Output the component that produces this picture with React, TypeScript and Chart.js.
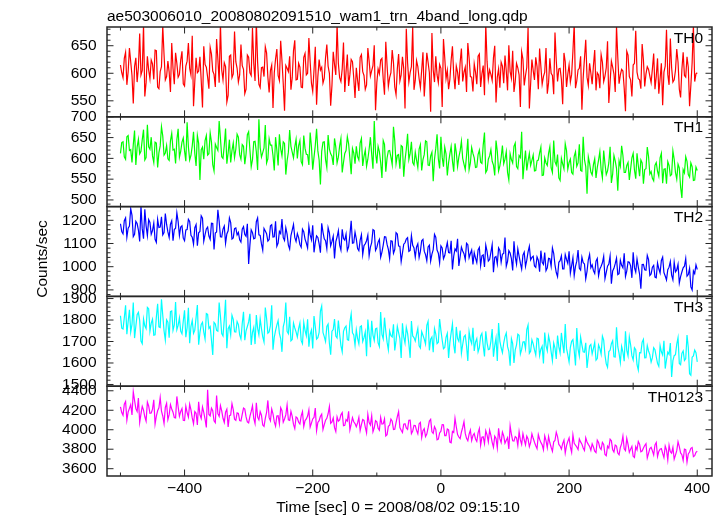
import React, { useEffect, useRef } from 'react';
import { Chart, registerables } from 'chart.js';

Chart.register(...registerables);

const TITLE = 'ae503006010_20080802091510_wam1_trn_4band_long.qdp';
const X_TITLE = 'Time [sec] 0 = 2008/08/02 09:15:10';
const Y_TITLE = 'Counts/sec';

// bins: set A at -500, -496, ... ; set B at -498, -494, ...
const T_START_A = -500;
const T_START_B = -498;
const T_STEP = 4;
const X_MIN = -521;
const X_MAX = 423;
const X_TICKS = [-400, -200, 0, 200, 400];
const X_MINOR_TICKS = [-500, -300, -100, 100, 300];

const PANEL_NAMES = ['TH0', 'TH1', 'TH2', 'TH3', 'TH0123'];
const PANEL_COLORS = ['#ff0000', '#00ff00', '#0000ff', '#00ffff', '#ff00ff'];
const Y_MINS = [521, 484, 872, 1492, 3525];
const Y_MAXS = [684, 700, 1259, 1910, 4447];
const Y_TICKS_TH0 = [550, 600, 650];
const Y_TICKS_TH1 = [500, 550, 600, 650, 700];
const Y_TICKS_TH2 = [900, 1000, 1100, 1200];
const Y_TICKS_TH3 = [1500, 1600, 1700, 1800, 1900];
const Y_TICKS_TH0123 = [3600, 3800, 4000, 4200, 4400];
const Y_TICKS = [Y_TICKS_TH0, Y_TICKS_TH1, Y_TICKS_TH2, Y_TICKS_TH3, Y_TICKS_TH0123];
const Y_MINOR_STEPS = [10, 10, 20, 20, 100];

const TH0_A = [
  615, 592, 638, 603, 621, 545, 628, 611, 597, 688, 583, 606, 624, 589, 641, 572, 612, 634, 594, 602, 655, 580, 618,
  598, 640, 577, 622, 609, 668, 585, 601, 630, 538, 616, 593, 647, 604, 575, 626, 690, 588, 612, 560, 633, 599, 621,
  584, 652, 607, 571, 629, 596, 618, 695, 580, 610, 594, 637, 565, 615, 601, 644, 587, 623, 532, 609, 631, 592, 660,
  589, 611, 574, 636, 600, 621, 567, 648, 594, 606, 582, 628, 613, 541, 639, 597, 618, 585, 656, 603, 577, 625, 592,
  610, 568, 634, 596, 579, 622, 605, 651, 583, 599, 627, 561, 614, 592, 642, 575, 608, 586, 630, 536, 619, 601, 684,
  587, 612, 574, 638, 595, 620, 530, 606, 631, 583, 609, 662, 590, 571, 624, 597, 613, 579, 645, 602, 566, 628, 593,
  617, 580, 635, 599, 560, 622, 606, 587, 650, 593, 574, 613, 632, 569, 603, 641, 585, 610, 539, 626, 596, 683, 581,
  605, 629, 571, 612, 594, 646, 583, 600, 562, 623, 608, 589, 637, 575, 615, 598, 690, 586, 609, 534, 627, 593, 618,
  580, 642, 601, 573, 620, 595, 658, 584, 611, 566, 629, 597, 604, 531, 633, 588, 615, 677, 590, 572, 624, 599, 607,
  583, 636, 594, 563, 618, 602, 679, 579, 610, 588, 644, 571, 607, 596, 630, 540, 619, 585, 601
];
const TH0_B = [
  601, 627, 579, 646, 596, 612, 584, 672, 605, 558, 631, 590, 617, 642, 575, 603, 686, 588, 622, 566, 609, 637, 593,
  624, 581, 613, 655, 597, 540, 628, 604, 587, 649, 611, 572, 635, 598, 662, 583, 606, 619, 548, 631, 592, 676, 609,
  597, 614, 563, 633, 601, 682, 586, 620, 574, 611, 648, 593, 605, 537, 626, 596, 659, 581, 614, 603, 570, 641, 588,
  618, 575, 629, 597, 664, 582, 606, 543, 625, 611, 591, 652, 600, 578, 616, 689, 592, 608, 566, 634, 598, 621, 555,
  587, 629, 603, 571, 646, 595, 614, 533, 608, 624, 589, 657, 576, 601, 619, 561, 635, 597, 609, 681, 584, 612, 570,
  623, 590, 606, 558, 637, 601, 673, 584, 597, 616, 539, 628, 605, 589, 649, 571, 602, 620, 585, 611, 655, 594, 567,
  602, 631, 575, 614, 689, 589, 598, 628, 547, 608, 620, 582, 604, 651, 591, 566, 618, 597, 639, 578, 611, 536, 625,
  588, 612, 645, 580, 602, 563, 627, 596, 674, 585, 609, 544, 621, 598, 584, 640, 573, 606, 631, 592, 661, 578, 600,
  614, 569, 597, 634, 585, 610, 546, 622, 599, 686, 581, 607, 573, 640, 594, 558, 618, 602, 588, 653, 576, 612, 595,
  608, 571, 627, 590, 542, 613, 598, 663, 584, 605, 620, 556, 638, 593, 611, 578, 687, 599
];

const TH1_A = [
  612, 640, 598, 655, 621, 633, 584, 646, 617, 669, 602, 628, 651, 590, 637, 614, 676, 608, 631, 595, 660, 622, 645,
  603, 639, 618, 687, 596, 630, 612, 655, 548, 627, 643, 608, 661, 585, 634, 619, 648, 600, 672, 613, 590, 637, 622,
  651, 598, 629, 611, 664, 580, 640, 616, 694, 603, 625, 589, 647, 632, 571, 620, 658, 606, 636, 594, 668, 615, 628,
  600, 643, 585, 624, 609, 662, 573, 631, 618, 537, 639, 597, 656, 611, 584, 627, 603, 648, 590, 619, 635, 562, 613,
  629, 596, 648, 605, 581, 622, 610, 690, 588, 616, 553, 634, 601, 619, 585, 642, 607, 575, 628, 596, 659, 612, 590,
  615, 578, 633, 597, 642, 584, 606, 545, 624, 599, 652, 580, 611, 590, 629, 568, 614, 603, 641, 586, 607, 573, 626,
  601, 579, 620, 588, 662, 572, 606, 593, 559, 617, 582, 631, 598, 566, 611, 589, 637, 575, 602, 550, 619, 594, 583,
  608, 571, 596, 627, 560, 589, 612, 577, 643, 584, 553, 600, 575, 619, 590, 566, 605, 581, 634, 569, 597, 515, 588,
  560, 599, 578, 616, 553, 587, 570, 628, 562, 594, 522, 581, 607, 566, 590, 574, 612, 551, 583, 596, 539, 575, 604,
  568, 546, 590, 557, 612, 574, 539, 583, 561, 598, 550, 577, 505, 565, 593, 555, 580, 548, 571
];
const TH1_B = [
  638, 604, 652, 619, 590, 667, 627, 611, 645, 596, 681, 622, 606, 639, 578, 630, 654, 613, 599, 642, 620, 588, 671,
  617, 649, 593, 628, 607, 664, 582, 636, 621, 598, 655, 611, 639, 570, 626, 690, 604, 631, 587, 645, 619, 602, 658,
  609, 633, 586, 657, 620, 597, 641, 572, 626, 614, 680, 599, 632, 607, 651, 583, 623, 640, 561, 615, 629, 601, 646,
  631, 592, 655, 610, 584, 628, 603, 671, 596, 617, 640, 578, 622, 605, 648, 589, 630, 566, 612, 652, 599, 624, 587,
  604, 637, 582, 620, 598, 651, 575, 613, 629, 590, 643, 568, 618, 603, 676, 587, 609, 631, 556, 622, 597, 640, 584,
  596, 622, 571, 609, 640, 583, 615, 598, 658, 576, 603, 627, 559, 611, 594, 636, 580, 618, 600, 573, 647, 589, 612,
  578, 609, 591, 632, 566, 598, 621, 584, 643, 570, 602, 587, 616, 548, 597, 629, 580, 607, 664, 589, 571, 612, 595,
  570, 594, 613, 559, 601, 583, 628, 566, 592, 609, 547, 587, 635, 574, 598, 562, 616, 589, 571, 652, 580, 604, 567,
  585, 553, 596, 572, 619, 561, 589, 541, 607, 576, 594, 630, 566, 583, 548, 601, 572, 612, 557, 589, 573, 627, 562,
  552, 583, 569, 601, 540, 575, 592, 558, 618, 566, 586, 531, 573, 604, 561, 589, 547, 579
];

const TH2_A = [
  1185, 1142, 1210, 1166, 1250, 1130, 1195, 1158, 1262, 1121, 1176, 1203, 1140, 1188, 1105, 1169, 1215, 1147, 1182, 1126, 1198, 1160, 1232,
  1134, 1176, 1112, 1160, 1195, 1127, 1168, 1090, 1152, 1209, 1138, 1171, 1118, 1186, 1145, 1245, 1129, 1162, 1101, 1155, 1190, 1124, 1167,
  1148, 1106, 1173, 1131, 1012, 1159, 1120, 1194, 1137, 1098, 1165, 1142, 1117, 1181, 1129, 1088, 1152, 1205, 1113, 1140, 1076, 1158, 1126,
  1143, 1095, 1162, 1119, 1081, 1137, 1178, 1104, 1126, 1060, 1149, 1112, 1168, 1090, 1131, 1107, 1155, 1072, 1121, 1140, 1086, 1198, 1103,
  1120, 1069, 1138, 1091, 1112, 1047, 1104, 1156, 1082, 1118, 1063, 1129, 1096, 1035, 1110, 1074, 1141, 1088, 1059, 1103, 1125, 1070, 1092,
  1041, 1099, 1066, 1118, 1052, 1085, 1024, 1073, 1127, 1058, 1090, 1034, 1079, 1061, 1112, 1045, 1068, 1003, 1084, 1056, 1101, 1039, 1072,
  1060, 1018, 1083, 1047, 999, 1066, 1031, 1095, 1040, 1012, 1070, 1054, 1126, 1023, 1059, 984, 1042, 1077, 1015, 1050, 1001, 1064, 1029,
  1045, 997, 1028, 1069, 1010, 983, 1036, 1002, 1058, 975, 1019, 1047, 990, 1031, 1066, 1005, 962, 1024, 993, 1041, 1012, 980, 1053,
  1008, 971, 1035, 990, 1017, 949, 1002, 1046, 982, 1013, 966, 1028, 995, 958, 1021, 1004, 1062, 977, 998, 905, 1010, 985, 1031,
  969, 1006, 952, 991, 1027, 975, 943, 998, 964, 1019, 986, 930, 977, 1002, 959, 993, 900, 970, 988
];
const TH2_B = [
  1152, 1198, 1127, 1175, 1221, 1140, 1186, 1109, 1163, 1247, 1134, 1191, 1156, 1118, 1204, 1171, 1137, 1229, 1150, 1183, 1112, 1166, 1194,
  1171, 1123, 1158, 1204, 1135, 1097, 1181, 1146, 1219, 1110, 1163, 1132, 1187, 1074, 1150, 1196, 1128, 1175, 1141, 1210, 1119, 1164, 1137,
  1116, 1162, 1139, 1185, 1094, 1147, 1123, 1210, 1135, 1071, 1154, 1110, 1176, 1128, 1196, 1102, 1143, 1125, 1168, 1093, 1134, 1182, 1109,
  1125, 1084, 1151, 1102, 1174, 1116, 1062, 1133, 1098, 1187, 1120, 1077, 1146, 1109, 1035, 1128, 1093, 1161, 1114, 1070, 1137, 1101, 1149,
  1078, 1115, 1052, 1099, 1136, 1084, 1160, 1070, 1106, 1041, 1093, 1128, 1075, 1112, 1058, 1147, 1089, 1022, 1097, 1119, 1066, 1134, 1081,
  1085, 1040, 1112, 1067, 1026, 1093, 1054, 1139, 1072, 1016, 1081, 1048, 1104, 1059, 988, 1077, 1120, 1043, 1068, 1031, 1095, 1057, 1010,
  1037, 1072, 1005, 1051, 1093, 1024, 1062, 976, 1044, 1081, 1019, 1057, 1002, 1069, 1035, 1110, 1011, 1046, 990, 1063, 1028, 1088, 1040,
  1003, 1042, 978, 1019, 1061, 995, 1034, 1081, 1008, 957, 1026, 990, 1052, 1014, 972, 1039, 1001, 1072, 985, 1017, 948, 1030, 996,
  983, 1024, 961, 1002, 1045, 976, 1011, 927, 993, 1037, 970, 1006, 1058, 981, 1019, 952, 996, 1033, 968, 1009, 987, 1049, 962,
  998, 955, 1016, 973, 1041, 960, 987, 1022, 944, 978, 1010, 957, 995, 1035, 966, 913, 982, 1008
];

const TH3_A = [
  1820, 1758, 1869, 1793, 1745, 1882, 1771, 1836, 1702, 1805, 1760, 1853, 1786, 1729, 1814, 1768, 1897, 1750, 1801, 1718, 1842, 1777, 1755,
  1810, 1736, 1845, 1764, 1692, 1798, 1753, 1870, 1741, 1789, 1712, 1826, 1769, 1637, 1782, 1748, 1817, 1726, 1894, 1760, 1731, 1803, 1744,
  1779, 1712, 1838, 1750, 1791, 1684, 1766, 1823, 1731, 1760, 1698, 1807, 1745, 1869, 1720, 1776, 1738, 1652, 1794, 1747, 1815, 1709, 1763,
  1721, 1786, 1690, 1752, 1804, 1733, 1668, 1769, 1718, 1842, 1742, 1700, 1781, 1639, 1756, 1725, 1798, 1681, 1747, 1772, 1706, 1829, 1731,
  1754, 1689, 1773, 1718, 1632, 1741, 1796, 1705, 1762, 1677, 1733, 1811, 1697, 1749, 1721, 1658, 1770, 1714, 1785, 1693, 1738, 1624, 1726,
  1702, 1761, 1670, 1729, 1688, 1794, 1711, 1650, 1736, 1697, 1752, 1666, 1719, 1623, 1741, 1684, 1768, 1701, 1645, 1722, 1679, 1745, 1690,
  1656, 1713, 1672, 1738, 1630, 1694, 1665, 1758, 1681, 1609, 1702, 1648, 1723, 1676, 1587, 1690, 1661, 1734, 1642, 1698, 1667, 1777, 1655,
  1689, 1637, 1712, 1664, 1598, 1681, 1726, 1652, 1693, 1619, 1675, 1740, 1646, 1668, 1605, 1701, 1658, 1763, 1632, 1684, 1650, 1577, 1679,
  1642, 1696, 1621, 1668, 1725, 1637, 1580, 1659, 1704, 1628, 1676, 1602, 1651, 1748, 1633, 1685, 1614, 1662, 1567, 1647, 1710, 1625, 1656,
  1604, 1671, 1629, 1585, 1652, 1703, 1616, 1640, 1535, 1634, 1688, 1598, 1645, 1612, 1730, 1550, 1627, 1660, 1605
];
const TH3_B = [
  1762, 1811, 1734, 1848, 1780, 1716, 1825, 1797, 1690, 1773, 1859, 1748, 1804, 1731, 1876, 1765, 1822, 1707, 1790, 1839, 1752, 1884, 1775,
  1748, 1795, 1720, 1857, 1771, 1738, 1812, 1685, 1779, 1743, 1830, 1761, 1706, 1789, 1752, 1881, 1737, 1803, 1669, 1772, 1822, 1745, 1793,
  1731, 1784, 1706, 1770, 1829, 1743, 1688, 1761, 1806, 1722, 1858, 1739, 1775, 1662, 1751, 1797, 1714, 1768, 1881, 1736, 1703, 1786, 1745,
  1760, 1704, 1789, 1727, 1676, 1753, 1819, 1711, 1742, 1865, 1723, 1770, 1692, 1748, 1805, 1716, 1735, 1652, 1764, 1709, 1791, 1740, 1683,
  1715, 1768, 1700, 1745, 1802, 1673, 1730, 1759, 1694, 1837, 1712, 1748, 1661, 1727, 1780, 1704, 1741, 1623, 1722, 1766, 1689, 1795, 1718,
  1733, 1680, 1746, 1711, 1775, 1659, 1721, 1760, 1690, 1805, 1707, 1672, 1738, 1696, 1782, 1645, 1714, 1751, 1686, 1729, 1610, 1709, 1764,
  1697, 1652, 1726, 1680, 1748, 1662, 1701, 1629, 1717, 1786, 1671, 1693, 1740, 1654, 1713, 1600, 1684, 1729, 1663, 1699, 1756, 1645, 1708,
  1661, 1715, 1634, 1678, 1742, 1657, 1697, 1611, 1669, 1728, 1646, 1690, 1781, 1638, 1673, 1709, 1589, 1666, 1720, 1652, 1694, 1630, 1686,
  1668, 1613, 1684, 1641, 1707, 1596, 1653, 1690, 1629, 1766, 1645, 1677, 1608, 1659, 1722, 1634, 1671, 1592, 1648, 1697, 1624, 1681, 1639,
  1625, 1662, 1598, 1681, 1637, 1574, 1650, 1693, 1611, 1639, 1718, 1592, 1656, 1620, 1673, 1543, 1633, 1648
];

const TH0123_A = [
  4235, 4148, 4290, 4182, 4257, 4390, 4216, 4325, 4163, 4201, 4088, 4244, 4172, 4308, 4139, 4225, 4190, 4064, 4271, 4155, 4213, 4126, 4342,
  4139, 4218, 4095, 4176, 4262, 4121, 4187, 4050, 4154, 4233, 4108, 4410, 4142, 4196, 4072, 4165, 4247, 4118, 4180, 4029, 4151, 4206, 4097,
  4168, 4090, 4223, 4132, 4071, 4188, 4116, 4276, 4102, 4149, 4035, 4177, 4124, 4213, 4083, 4141, 4060, 4195, 4110, 4254, 4096, 4137, 4012,
  4120, 4059, 4186, 4094, 4140, 4027, 4111, 4222, 4075, 4138, 4003, 4097, 4164, 4066, 4121, 3982, 4089, 4153, 4041, 4105, 4190, 4058, 4082,
  4031, 4127, 4052, 4096, 3968, 4074, 4143, 4020, 4081, 3995, 4058, 4112, 3949, 4046, 4088, 4006, 4135, 4023, 3972, 4061, 4004, 4099, 3987,
  4042, 3958, 4075, 3991, 3930, 4018, 4106, 3962, 4003, 3904, 3985, 4051, 3940, 3998, 3867, 3971, 4030, 3925, 3976, 4082, 3912, 3954, 3889,
  3961, 3880, 4012, 3923, 3858, 3947, 3996, 3871, 3934, 3815, 3908, 3975, 3862, 3919, 4041, 3886, 3930, 3838, 3895, 3959, 3846, 3905, 3869,
  3912, 3835, 3950, 3868, 3794, 3889, 3931, 3820, 3876, 3975, 3849, 3801, 3893, 3837, 3916, 3768, 3860, 3823, 3905, 3852, 3787, 3874, 3829,
  3855, 3779, 3892, 3816, 3870, 3746, 3831, 3903, 3795, 3842, 3760, 3818, 3934, 3786, 3849, 3801, 3727, 3826, 3880, 3774, 3812, 3856, 3758,
  3820, 3741, 3869, 3778, 3807, 3715, 3792, 3840, 3759, 3698, 3785, 3826, 3744, 3802, 3668, 3771, 3818, 3733, 3779
];
const TH0123_B = [
  4176, 4263, 4098, 4219, 4152, 4301, 4187, 4075, 4240, 4133, 4284, 4169, 4212, 4057, 4195, 4330, 4141, 4229, 4104, 4258, 4180, 4121, 4236,
  4188, 4097, 4241, 4130, 4203, 4061, 4169, 4286, 4115, 4178, 4024, 4157, 4222, 4091, 4350, 4137, 4194, 4076, 4211, 4145, 4268, 4109, 4173,
  4094, 4157, 4212, 4081, 4138, 4246, 4063, 4129, 4185, 4049, 4117, 4301, 4092, 4163, 4037, 4144, 4226, 4078, 4152, 4101, 4189, 4055, 4131,
  4077, 4142, 4033, 4111, 4205, 4068, 4126, 3991, 4093, 4160, 4052, 4117, 4238, 4079, 4021, 4132, 4101, 4175, 4046, 4089, 3998, 4124, 4063,
  4070, 3991, 4105, 4027, 4158, 4049, 3980, 4093, 4016, 4126, 4061, 3937, 4034, 4110, 4003, 4072, 4186, 3994, 4057, 4018, 4097, 3961, 4044,
  3993, 4061, 3920, 4012, 3955, 4089, 3978, 4031, 3896, 3967, 4052, 3939, 4007, 3874, 3983, 4118, 3951, 3909, 4023, 3962, 3887, 3996, 3941,
  3905, 3967, 3842, 3928, 3989, 3876, 3943, 3820, 3911, 4015, 3868, 3937, 3891, 3802, 3954, 3883, 3918, 3981, 3849, 3897, 3934, 3826, 3958,
  3871, 3806, 3902, 3845, 3938, 3817, 3866, 3779, 3889, 3930, 3833, 3857, 3760, 3881, 3824, 3947, 3841, 3798, 3875, 3812, 3918, 3850, 3789,
  3822, 3765, 3869, 3797, 3850, 3733, 3811, 3886, 3772, 3833, 3742, 3858, 3804, 3911, 3768, 3829, 3715, 3794, 3852, 3781, 3838, 3710, 3807,
  3783, 3845, 3726, 3801, 3757, 3832, 3690, 3774, 3819, 3740, 3876, 3762, 3685, 3796, 3752, 3809, 3723, 3768
];

const SERIES_A = [TH0_A, TH1_A, TH2_A, TH3_A, TH0123_A];
const SERIES_B = [TH0_B, TH1_B, TH2_B, TH3_B, TH0123_B];

const FONT_FAMILY = '"Liberation Sans", Arial, Helvetica, sans-serif';
const FONT_SIZE = 15.5;
const AXIS_COLOR = '#262626';

const fmt = (v: number) => (v < 0 ? '\u2212' + String(-v) : String(v));

const panelPlugin = {
  id: 'qdpPanels',
  beforeDatasetDraw(chart: any, args: any) {
    const ys = chart.scales[args.meta.yAxisID];
    const { left, right } = chart.chartArea;
    const ctx = chart.ctx;
    ctx.save();
    ctx.beginPath();
    ctx.rect(left, ys.top, right - left, ys.bottom - ys.top);
    ctx.clip();
  },
  afterDatasetDraw(chart: any) {
    chart.ctx.restore();
  },
  afterDraw(chart: any) {
    const ctx = chart.ctx;
    const { left, right } = chart.chartArea;
    const xs = chart.scales.x;
    const seg = (x1: number, y1: number, x2: number, y2: number) => {
      ctx.beginPath();
      ctx.moveTo(x1, y1);
      ctx.lineTo(x2, y2);
      ctx.stroke();
    };
    ctx.save();
    ctx.strokeStyle = AXIS_COLOR;
    ctx.fillStyle = '#000';
    ctx.font = `${FONT_SIZE}px ${FONT_FAMILY}`;
    PANEL_NAMES.forEach((name, i) => {
      const ys = chart.scales['y' + i];
      const top = ys.top;
      const bottom = ys.bottom;
      ctx.lineWidth = 1;
      const step = Y_MINOR_STEPS[i];
      for (let v = Math.ceil(Y_MINS[i] / step) * step; v <= Y_MAXS[i]; v += step) {
        const y = ys.getPixelForValue(v);
        const len = Y_TICKS[i].includes(v) ? 6.5 : 3.5;
        seg(left, y, left + len, y);
        seg(right, y, right - len, y);
      }
      const drawX = (vals: number[], len: number) => {
        vals.forEach((v) => {
          const x = xs.getPixelForValue(v);
          seg(x, top, x, top + len);
          seg(x, bottom, x, bottom - len);
        });
      };
      drawX(X_TICKS, 6.5);
      drawX(X_MINOR_TICKS, 3.5);
      ctx.lineWidth = 1.5;
      ctx.strokeRect(left, top, right - left, bottom - top);
      ctx.textAlign = 'right';
      ctx.textBaseline = 'alphabetic';
      ctx.fillText(name, right - 9, top + 15.5);
    });
    ctx.textAlign = 'left';
    ctx.textBaseline = 'alphabetic';
    ctx.fillText(TITLE, 107, 20.5);
    ctx.textAlign = 'center';
    ctx.fillText(X_TITLE, 398, 511.5);
    ctx.save();
    ctx.translate(46.5, 259);
    ctx.rotate(-Math.PI / 2);
    ctx.textAlign = 'center';
    ctx.fillText(Y_TITLE, 0, 0);
    ctx.restore();
    ctx.restore();
  },
};

function buildPoints(a: number[], b: number[]) {
  const pts: { x: number; y: number }[] = [];
  for (let j = 0; j < a.length; j++) {
    pts.push({ x: T_START_A + j * T_STEP, y: a[j] });
    if (j < b.length) pts.push({ x: T_START_B + j * T_STEP, y: b[j] });
  }
  return pts;
}

export default function App() {
  const ref = useRef<HTMLCanvasElement | null>(null);

  useEffect(() => {
    if (!ref.current) return;
    const font = { family: FONT_FAMILY, size: FONT_SIZE };
    const scales: any = {
      x: {
        type: 'linear',
        position: 'bottom',
        min: X_MIN,
        max: X_MAX,
        grid: { display: false, drawTicks: false },
        border: { display: false },
        ticks: {
          font,
          color: '#000',
          padding: 3,
          autoSkip: false,
          maxRotation: 0,
          callback: (v: any) => fmt(Number(v)),
        },
        afterBuildTicks: (s: any) => {
          s.ticks = X_TICKS.map((value) => ({ value }));
        },
        afterFit: (s: any) => {
          s.height = 40;
        },
      },
    };
    for (let i = PANEL_NAMES.length - 1; i >= 0; i--) {
      scales['y' + i] = {
        type: 'linear',
        position: 'left',
        stack: 'panels',
        stackWeight: 1,
        min: Y_MINS[i],
        max: Y_MAXS[i],
        grid: { display: false, drawTicks: false },
        border: { display: false },
        ticks: {
          font,
          color: '#000',
          padding: 10.5,
          autoSkip: false,
          callback: (v: any) => fmt(Number(v)),
        },
        afterBuildTicks: (s: any) => {
          s.ticks = Y_TICKS[i].map((value) => ({ value }));
        },
        afterFit: (s: any) => {
          s.width = 107;
        },
      };
    }

    const datasets = SERIES_A.map((vals, i) => ({
      label: PANEL_NAMES[i],
      data: buildPoints(vals, SERIES_B[i]),
      yAxisID: 'y' + i,
      borderColor: PANEL_COLORS[i],
      backgroundColor: PANEL_COLORS[i],
      borderWidth: 1.2,
      pointRadius: 0,
      tension: 0,
      fill: false,
    }));

    const chart = new Chart(ref.current, {
      type: 'line',
      data: { datasets },
      options: {
        responsive: false,
        animation: false,
        events: [],
        layout: { padding: { top: 27, right: 12, bottom: 0, left: 0 } },
        plugins: {
          legend: { display: false },
          tooltip: { enabled: false },
          title: { display: false },
        },
        scales,
      },
      plugins: [panelPlugin],
    } as any);
    return () => chart.destroy();
  }, []);

  return (
    <div style={{ position: 'absolute', left: 0, top: 0, width: 724, height: 516, background: '#fff' }}>
      <canvas ref={ref} width={724} height={516} style={{ display: 'block' }} />
    </div>
  );
}
